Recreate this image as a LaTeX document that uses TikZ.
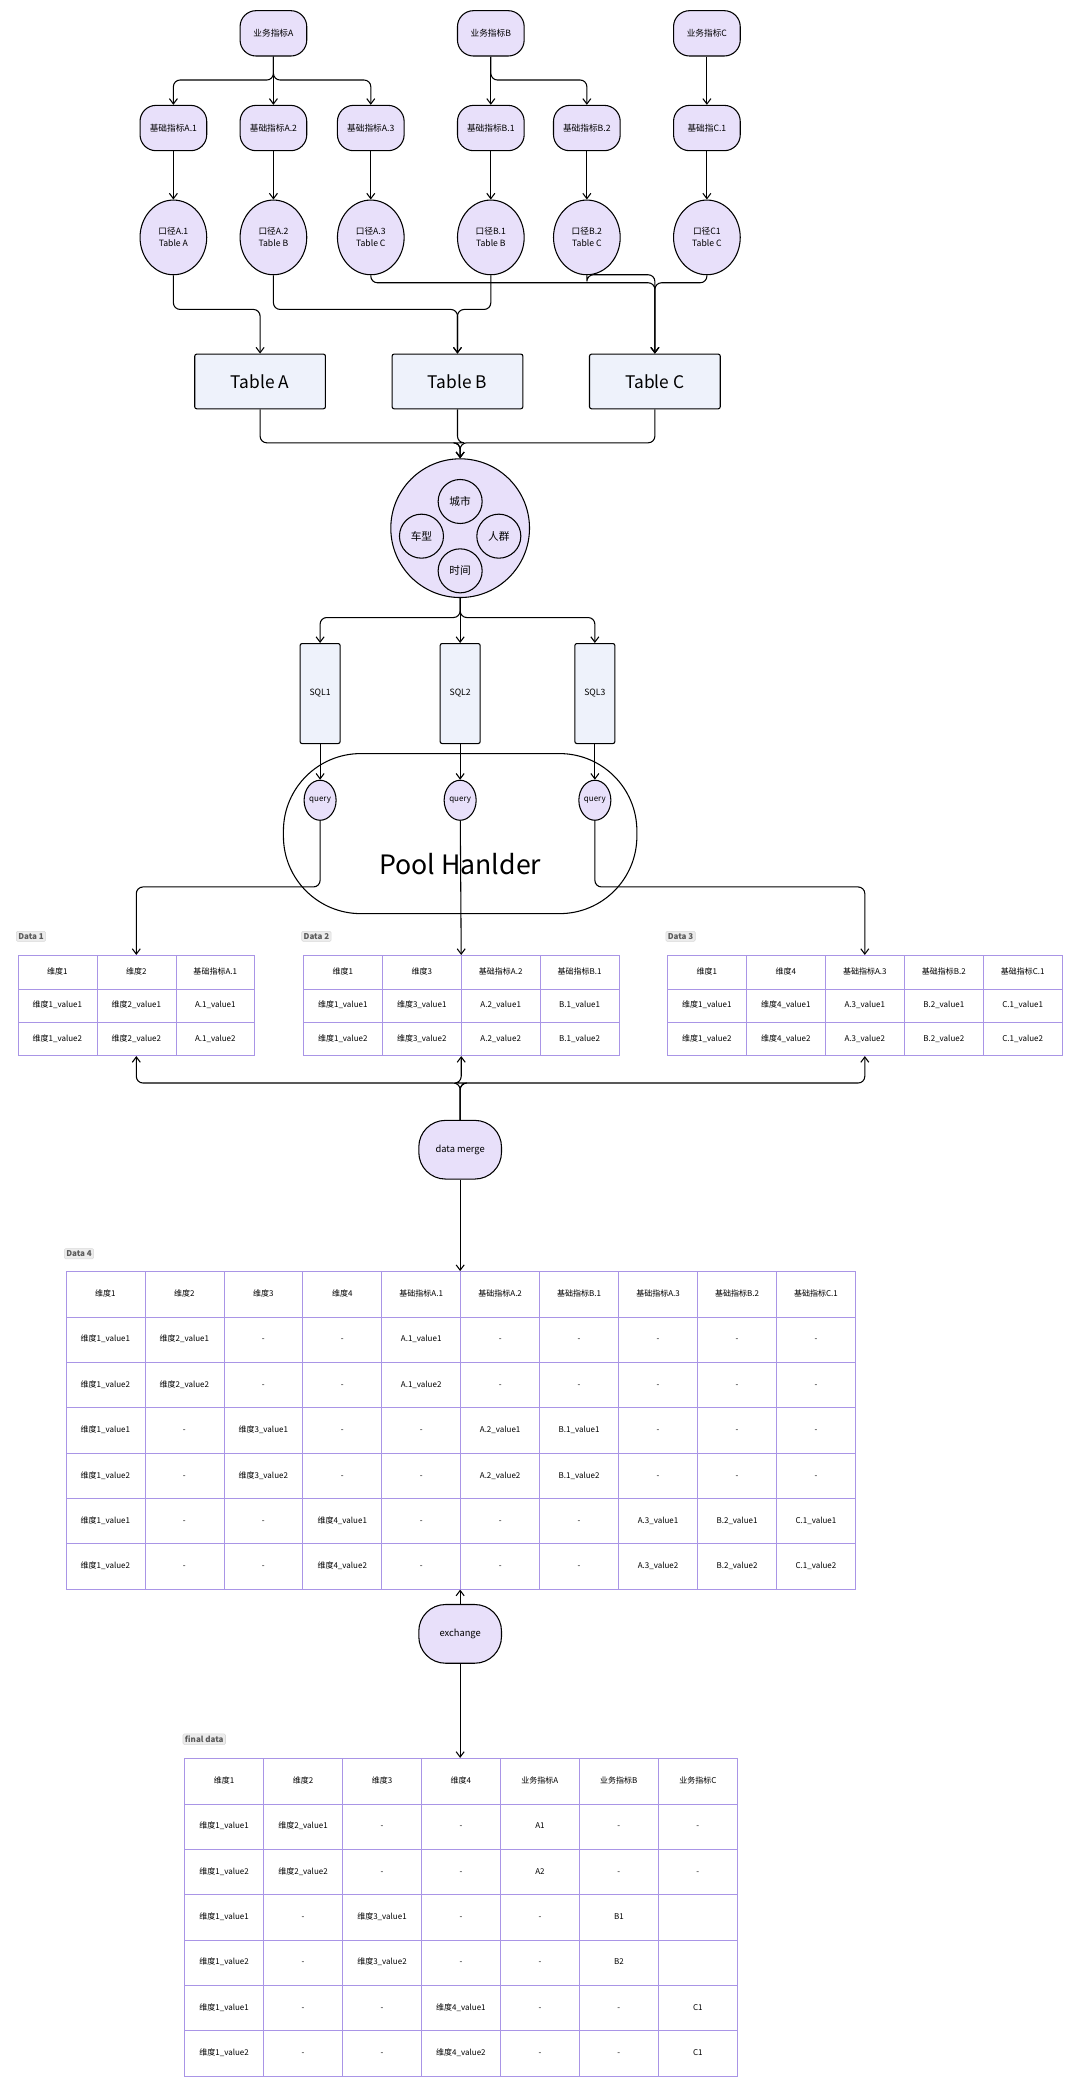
\documentclass[tikz,border=0pt]{standalone}
\usepackage{fontspec}
\setmainfont{Noto Sans CJK SC}
\usetikzlibrary{shapes.geometric,arrows.meta,matrix}
\definecolor{lav}{HTML}{E8E0FA}
\definecolor{tbl}{HTML}{EEF2FB}
\definecolor{grid}{HTML}{A995E6}
\tikzset{
  pill/.style={draw,thick,fill=lav,rounded corners=12pt,minimum width=50,minimum height=34,inner sep=1pt,font=\fontsize{6.5}{8}\selectfont},
  oval/.style={draw,thick,fill=lav,ellipse,minimum width=50,minimum height=56,inner sep=0pt,align=center,font=\fontsize{6.5}{9}\selectfont},
  tbox/.style={draw,thick,fill=tbl,rounded corners=1.5pt,minimum width=98,minimum height=41,font=\fontsize{13}{15}\selectfont},
  sqlbox/.style={draw,thick,fill=tbl,rounded corners=1.5pt,minimum width=30,minimum height=75,font=\fontsize{6.5}{8}\selectfont},
  dim/.style={draw,thick,circle,minimum size=33,inner sep=0pt,font=\fontsize{8}{9}\selectfont},
  query/.style={draw,thick,fill=lav,ellipse,minimum width=24,minimum height=30,inner sep=0pt,font=\fontsize{6}{7}\selectfont},
  tag/.style={fill=gray!15,draw=gray!30,rounded corners=1pt,inner sep=1.5pt,text=gray!70!black,anchor=west,font=\fontsize{6}{7}\selectfont\bfseries},
  data/.style={matrix of nodes,nodes in empty cells,inner sep=0pt,anchor=north west,column sep=-0.4pt,row sep=-0.4pt,
    nodes={draw=grid,minimum width=59.2,minimum height=#1,inner sep=0pt,text height=5pt,text depth=1.5pt,font=\fontsize{6}{7}\selectfont}},
  arr/.style={thick,-{Straight Barb[length=4pt,width=6pt]},rounded corners=5pt},
  line/.style={thick,rounded corners=5pt}
}
\begin{document}
\begin{tikzpicture}[x=1pt,y=-1pt]
\useasboundingbox (0,0) rectangle (810,1570);
% metrics
\node[pill] (bA) at (205,25) {业务指标A};
\node[pill] (bB) at (368,25) {业务指标B};
\node[pill] (bC) at (530,25) {业务指标C};
\node[pill] (jA1) at (130,96) {基础指标A.1};
\node[pill] (jA2) at (205,96) {基础指标A.2};
\node[pill] (jA3) at (278,96) {基础指标A.3};
\node[pill] (jB1) at (368,96) {基础指标B.1};
\node[pill] (jB2) at (440,96) {基础指标B.2};
\node[pill] (jC1) at (530,96) {基础指C.1};
\node[oval] (kA1) at (130,178) {口径A.1\\Table A};
\node[oval] (kA2) at (205,178) {口径A.2\\Table B};
\node[oval] (kA3) at (278,178) {口径A.3\\Table C};
\node[oval] (kB1) at (368,178) {口径B.1\\Table B};
\node[oval] (kB2) at (440,178) {口径B.2\\Table C};
\node[oval] (kC1) at (530,178) {口径C1\\Table C};
\node[tbox] (tA) at (195,286) {Table A};
\node[tbox] (tB) at (343,286) {Table B};
\node[tbox] (tC) at (491,286) {Table C};
\coordinate (bus1) at (0,60);
\foreach \s/\t in {bA/jA1,bA/jA2,bA/jA3,bB/jB1,bB/jB2}
  \draw[arr] (\s.south) -- (\s |- bus1) -| (\t.north);
\draw[arr] (bC) -- (jC1);
\foreach \n in {A1,A2,A3,B1,B2,C1}
  \draw[arr] (j\n) -- (k\n);
\coordinate (bus2) at (0,232);
\coordinate (bus3) at (0,212);
\coordinate (bus3b) at (0,206);
\draw[arr] (kA1.south) -- (kA1 |- bus2) -| (tA.north);
\draw[arr] (kA2.south) -- (kA2 |- bus2) -| (tB.north);
\draw[arr] (kB1.south) -- (kB1 |- bus2) -| (tB.north);
\draw[arr] (kA3.south) -- (kA3 |- bus3) -| (tC.north);
\draw[arr] (kB2.south) -- (kB2 |- bus3b) -| (tC.north);
\draw[arr] (kC1.south) -- (kC1 |- bus3) -| (tC.north);
% dimensions
\node[draw,thick,fill=lav,circle,minimum size=104] (dims) at (345,396) {};
\node[dim] (city) at (345,376) {城市};
\node[dim] (car) at (316,402) {车型};
\node[dim] (crowd) at (374,402) {人群};
\node[dim] (time) at (345,428) {时间};
\coordinate (bus4) at (0,332);
\foreach \t in {tA,tB,tC}
  \draw[arr] (\t.south) -- (\t |- bus4) -| (dims.north);
% sql and pool
\node[sqlbox] (sql1) at (240,520) {SQL1};
\node[sqlbox] (sql2) at (345,520) {SQL2};
\node[sqlbox] (sql3) at (446,520) {SQL3};
\node[draw,thick,rounded corners=58pt,minimum width=265,minimum height=120] (pool) at (345,625) {};
\node[font=\fontsize{20}{22}\selectfont] (poolt) at (345,648) {Pool Hanlder};
\coordinate (bus5) at (0,463);
\foreach \n in {1,2,3}{
  \draw[arr] (dims.south) -- (dims |- bus5) -| (sql\n.north);
  \node[query] (q\n) at (sql\n |- 0,600) {query};
  \draw[arr] (sql\n) -- (q\n);
}
% data tables
\node[tag] (tag1) at (12,702) {Data 1};
\node[tag] (tag2) at (226,702) {Data 2};
\node[tag] (tag3) at (499,702) {Data 3};
\matrix[data=25] (d1) at (13,716) {
维度1 & 维度2 & 基础指标A.1 \\
维度1\_value1 & 维度2\_value1 & A.1\_value1 \\
维度1\_value2 & 维度2\_value2 & A.1\_value2 \\
};
\matrix[data=25] (d2) at (227,716) {
维度1 & 维度3 & 基础指标A.2 & 基础指标B.1 \\
维度1\_value1 & 维度3\_value1 & A.2\_value1 & B.1\_value1 \\
维度1\_value2 & 维度3\_value2 & A.2\_value2 & B.1\_value2 \\
};
\matrix[data=25] (d3) at (500,716) {
维度1 & 维度4 & 基础指标A.3 & 基础指标B.2 & 基础指标C.1 \\
维度1\_value1 & 维度4\_value1 & A.3\_value1 & B.2\_value1 & C.1\_value1 \\
维度1\_value2 & 维度4\_value2 & A.3\_value2 & B.2\_value2 & C.1\_value2 \\
};
\coordinate (bus6) at (0,665);
\draw[arr] (q1.south) -- (q1 |- bus6) -| (d1.north);
\draw[arr] (q2) -- (d2.north);
\draw[arr] (q3.south) -- (q3 |- bus6) -| (d3.north);
% merge
\node[pill,minimum width=62,minimum height=44,rounded corners=20pt,font=\fontsize{7}{8}\selectfont] (merge) at (345,862) {data merge};
\coordinate (bus7) at (0,812);
\foreach \d in {d1,d2,d3}
  \draw[arr] (merge.north) -- (merge |- bus7) -| (\d.south);
\node[tag] (tag4) at (48,940) {Data 4};
\matrix[data=34] (d4) at (49,953) {
维度1 & 维度2 & 维度3 & 维度4 & 基础指标A.1 & 基础指标A.2 & 基础指标B.1 & 基础指标A.3 & 基础指标B.2 & 基础指标C.1 \\
维度1\_value1 & 维度2\_value1 & - & - & A.1\_value1 & - & - & - & - & - \\
维度1\_value2 & 维度2\_value2 & - & - & A.1\_value2 & - & - & - & - & - \\
维度1\_value1 & - & 维度3\_value1 & - & - & A.2\_value1 & B.1\_value1 & - & - & - \\
维度1\_value2 & - & 维度3\_value2 & - & - & A.2\_value2 & B.1\_value2 & - & - & - \\
维度1\_value1 & - & - & 维度4\_value1 & - & - & - & A.3\_value1 & B.2\_value1 & C.1\_value1 \\
维度1\_value2 & - & - & 维度4\_value2 & - & - & - & A.3\_value2 & B.2\_value2 & C.1\_value2 \\
};
\draw[arr] (merge) -- (merge |- d4.north);
% exchange
\node[pill,minimum width=62,minimum height=44,rounded corners=20pt,font=\fontsize{7}{8}\selectfont] (exch) at (345,1225) {exchange};
\node[tag] (tag5) at (137,1304) {final data};
\matrix[data=34] (fin) at (138,1318) {
维度1 & 维度2 & 维度3 & 维度4 & 业务指标A & 业务指标B & 业务指标C \\
维度1\_value1 & 维度2\_value1 & - & - & A1 & - & - \\
维度1\_value2 & 维度2\_value2 & - & - & A2 & - & - \\
维度1\_value1 & - & 维度3\_value1 & - & - & B1 & \\
维度1\_value2 & - & 维度3\_value2 & - & - & B2 & \\
维度1\_value1 & - & - & 维度4\_value1 & - & - & C1 \\
维度1\_value2 & - & - & 维度4\_value2 & - & - & C1 \\
};
\draw[arr] (exch) -- (exch |- d4.south);
\draw[arr] (exch) -- (exch |- fin.north);
\end{tikzpicture}
\end{document}
